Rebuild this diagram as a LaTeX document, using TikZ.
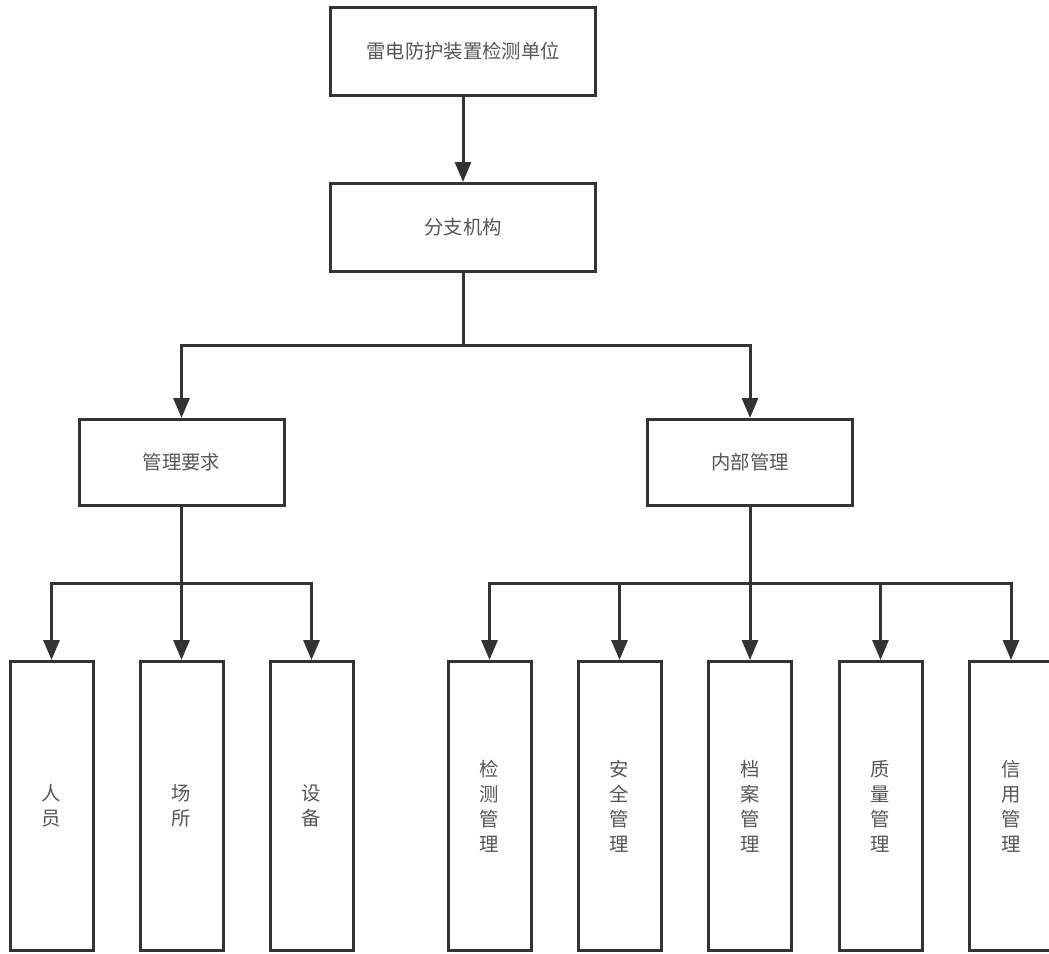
\documentclass[tikz,border=0pt]{standalone}
\usepackage{fontspec}
\newfontfamily\cjk{Noto Sans CJK SC}
\usepackage{xcolor}
\usepackage{tikz}
\usetikzlibrary{arrows.meta}
\definecolor{linegray}{HTML}{333333}
\definecolor{textgray}{HTML}{555555}

\begin{document}
\begin{tikzpicture}[x=0.75pt,y=-0.75pt]
      \tikzstyle{box} = [draw=linegray, line width=2.25pt, inner sep=0pt, align=center, text=textgray, font=\cjk\fontsize{14.5}{18.75}\selectfont]
      \tikzstyle{unit} = [box, minimum width=198.75pt, minimum height=66pt]
      \tikzstyle{part} = [box, minimum width=153.75pt, minimum height=64.5pt]
      \tikzstyle{item} = [box, minimum width=62.25pt, minimum height=216.75pt]
      \tikzstyle{edge} = [draw=linegray, line width=2.25pt, -{Triangle[width=12pt,length=15pt]}]
      \tikzstyle{wire} = [draw=linegray, line width=2.25pt]
      \clip (0,0) rectangle (1049,953);
      \node[unit] (unit) at (463,51.5) {雷电防护装置检测单位};
      \node[unit] (branch) at (463,227.5) {分支机构};
      \node[part] (req) at (181.5,462.5) {管理要求};
      \node[part] (inner) at (750,462.5) {内部管理};
      \node[item] (staff) at (51.5,806) {人\\员};
      \node[item] (site) at (181.5,806) {场\\所};
      \node[item] (equip) at (311.5,806) {设\\备};
      \node[item] (test) at (489.5,806) {检\\测\\管\\理};
      \node[item] (safe) at (619.5,806) {安\\全\\管\\理};
      \node[item] (file) at (750,806) {档\\案\\管\\理};
      \node[item] (qual) at (880.5,806) {质\\量\\管\\理};
      \node[item] (cred) at (1011,806) {信\\用\\管\\理};
      \coordinate (busA) at (463,345);
      \coordinate (busB) at (181.5,583);
      \coordinate (busC) at (750,583);
      \draw[edge] (unit) -- (branch);
      \draw[wire] (branch) -- (busA);
      \draw[edge] (busA) -| (req);
      \draw[edge] (busA) -| (inner);
      \draw[wire] (req) -- (busB);
      \foreach \n in {staff, site, equip}
        \draw[edge] (busB) -| (\n);
      \draw[wire] (inner) -- (busC);
      \foreach \n in {test, safe, file, qual, cred}
        \draw[edge] (busC) -| (\n);
    \end{tikzpicture}
\end{document}
